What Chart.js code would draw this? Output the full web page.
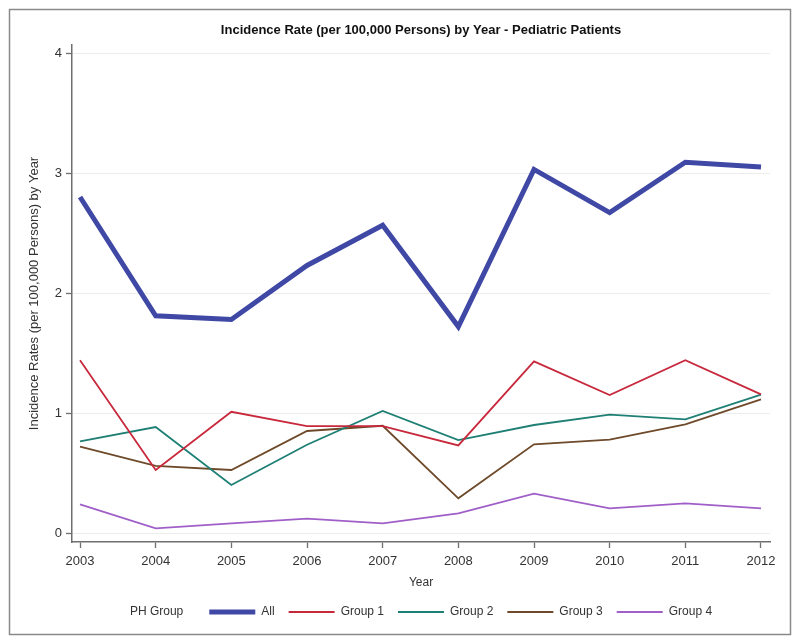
<!DOCTYPE html>
<html>
<head>
<meta charset="utf-8">
<title>Incidence Rate by Year - Pediatric Patients</title>
<script src="https://cdn.jsdelivr.net/npm/chart.js@4.4.0/dist/chart.umd.min.js"></script>
<style>
  html, body { margin: 0; padding: 0; background: #fff; }
</style>
</head>
<body>
<canvas id="rateChart" width="800" height="643"></canvas>
<script>
        // Data
        const years = [2003, 2004, 2005, 2006, 2007, 2008, 2009, 2010, 2011, 2012];
        const allRate = [2.80, 1.81, 1.78, 2.23, 2.565, 1.72, 3.03, 2.67, 3.09, 3.05];
        const group1 = [1.44, 0.525, 1.01, 0.89, 0.89, 0.73, 1.43, 1.15, 1.44, 1.155];
        const group2 = [0.764, 0.883, 0.40, 0.736, 1.017, 0.775, 0.90, 0.986, 0.947, 1.153];
        const group3 = [0.72, 0.56, 0.525, 0.85, 0.894, 0.289, 0.739, 0.778, 0.906, 1.114];
        const group4 = [0.239, 0.039, 0.081, 0.119, 0.081, 0.164, 0.328, 0.206, 0.247, 0.206];
        const yTicks = [0, 1, 2, 3, 4];

        const toPoints = (vals) => vals.map((v, i) => ({ x: years[i], y: v }));

        Chart.defaults.font.family = "'Liberation Sans', Arial, sans-serif";
        Chart.defaults.font.size = 12;
        Chart.defaults.color = '#333';

        // Outer frame + "PH Group" legend caption
        const framePlugin = {
            id: 'frame',
            afterLayout(chart) {
                const lg = chart.legend;
                const ctx = chart.ctx;
                const pad = lg.options.labels.padding;
                ctx.save();
                ctx.font = "12px 'Liberation Sans', Arial, sans-serif";
                const capW = ctx.measureText('PH Group').width;
                ctx.restore();
                const gap = 26;
                const itemsW = lg.lineWidths[0] - pad;
                const centerX = (chart.chartArea.left + chart.chartArea.right) / 2;
                const wanted = centerX - (capW + gap + itemsW) / 2 + capW + gap;
                const natural = (lg.left + pad + lg.right - lg.lineWidths[0]) / 2;
                const d = wanted - natural;
                lg.left += d;
                lg.right += d;
            },
            beforeDraw(chart) {
                const ctx = chart.ctx;
                ctx.save();
                ctx.fillStyle = '#fff';
                ctx.fillRect(0, 0, chart.width, chart.height);
                ctx.restore();
            },
            afterDraw(chart) {
                const ctx = chart.ctx;
                ctx.save();
                ctx.strokeStyle = '#8a8a8a';
                ctx.lineWidth = 1.5;
                ctx.strokeRect(9.5, 9.5, 781, 625);
                const hb = chart.legend.legendHitBoxes[0];
                if (hb) {
                    ctx.font = "12px 'Liberation Sans', Arial, sans-serif";
                    ctx.fillStyle = '#333';
                    ctx.textAlign = 'right';
                    ctx.textBaseline = 'middle';
                    ctx.fillText('PH Group', hb.left - 26, hb.top + hb.height / 2);
                }
                ctx.restore();
            }
        };

        const lineSet = (label, vals, color, width) => ({
            label: label,
            data: toPoints(vals),
            borderColor: color,
            backgroundColor: color,
            borderWidth: width,
            pointRadius: 0,
            pointHoverRadius: 0,
            tension: 0,
            fill: false
        });

        const rateChart = new Chart(
            document.getElementById('rateChart'),
            {
                type: 'line',
                data: {
                    datasets: [
                        lineSet('All', allRate, '#3f48a5', 5),
                        lineSet('Group 1', group1, '#c8283c', 1.8),
                        lineSet('Group 2', group2, '#1e7f74', 1.8),
                        lineSet('Group 3', group3, '#6e4a2a', 1.8),
                        lineSet('Group 4', group4, '#a05fc8', 1.8)
                    ]
                },
                options: {
                    responsive: false,
                    animation: false,
                    layout: {
                        padding: { left: 0, right: 30, top: 0, bottom: 15 }
                    },
                    plugins: {
                        title: {
                            display: true,
                            fullSize: false,
                            text: 'Incidence Rate (per 100,000 Persons) by Year - Pediatric Patients',
                            color: '#111',
                            font: { size: 13, weight: 'bold' },
                            padding: { top: 22.7, bottom: 6.7 }
                        },
                        legend: {
                            position: 'bottom',
                            fullSize: false,
                            labels: {
                                usePointStyle: true,
                                pointStyle: 'line',
                                pointStyleWidth: 46,
                                padding: 14,
                                color: '#333'
                            }
                        },
                        tooltip: { enabled: false }
                    },
                    scales: {
                        x: {
                            type: 'linear',
                            min: 2002.894,
                            max: 2012.119,
                            afterFit: (s) => { s.height = 50; },
                            afterBuildTicks: (s) => { s.ticks = years.map(v => ({ value: v })); },
                            ticks: {
                                padding: 5.5,
                                color: '#333',
                                font: { size: 13 },
                                maxRotation: 0,
                                callback: (v) => String(v)
                            },
                            grid: {
                                drawOnChartArea: false,
                                tickLength: 6,
                                tickColor: '#6f6f6f',
                                tickWidth: 1.3
                            },
                            border: { color: '#6f6f6f', width: 1.5 },
                            title: {
                                display: true,
                                text: 'Year',
                                color: '#333',
                                padding: { top: 0, bottom: 2 }
                            }
                        },
                        y: {
                            min: -0.075,
                            max: 4.067,
                            afterFit: (s) => { s.width = 72; },
                            afterBuildTicks: (s) => { s.ticks = yTicks.map(v => ({ value: v })); },
                            ticks: {
                                padding: 4,
                                color: '#333',
                                font: { size: 13 },
                                callback: (v) => String(v)
                            },
                            grid: {
                                color: '#ececec',
                                lineWidth: 1,
                                tickLength: 6,
                                tickColor: '#6f6f6f',
                                tickWidth: 1.3
                            },
                            border: { color: '#6f6f6f', width: 1.5 },
                            title: {
                                display: true,
                                text: 'Incidence Rates (per 100,000 Persons) by Year',
                                color: '#333',
                                font: { size: 13 },
                                padding: { top: 26.5, bottom: 0 }
                            }
                        }
                    }
                },
                plugins: [framePlugin]
            }
        );
</script>
</body>
</html>
